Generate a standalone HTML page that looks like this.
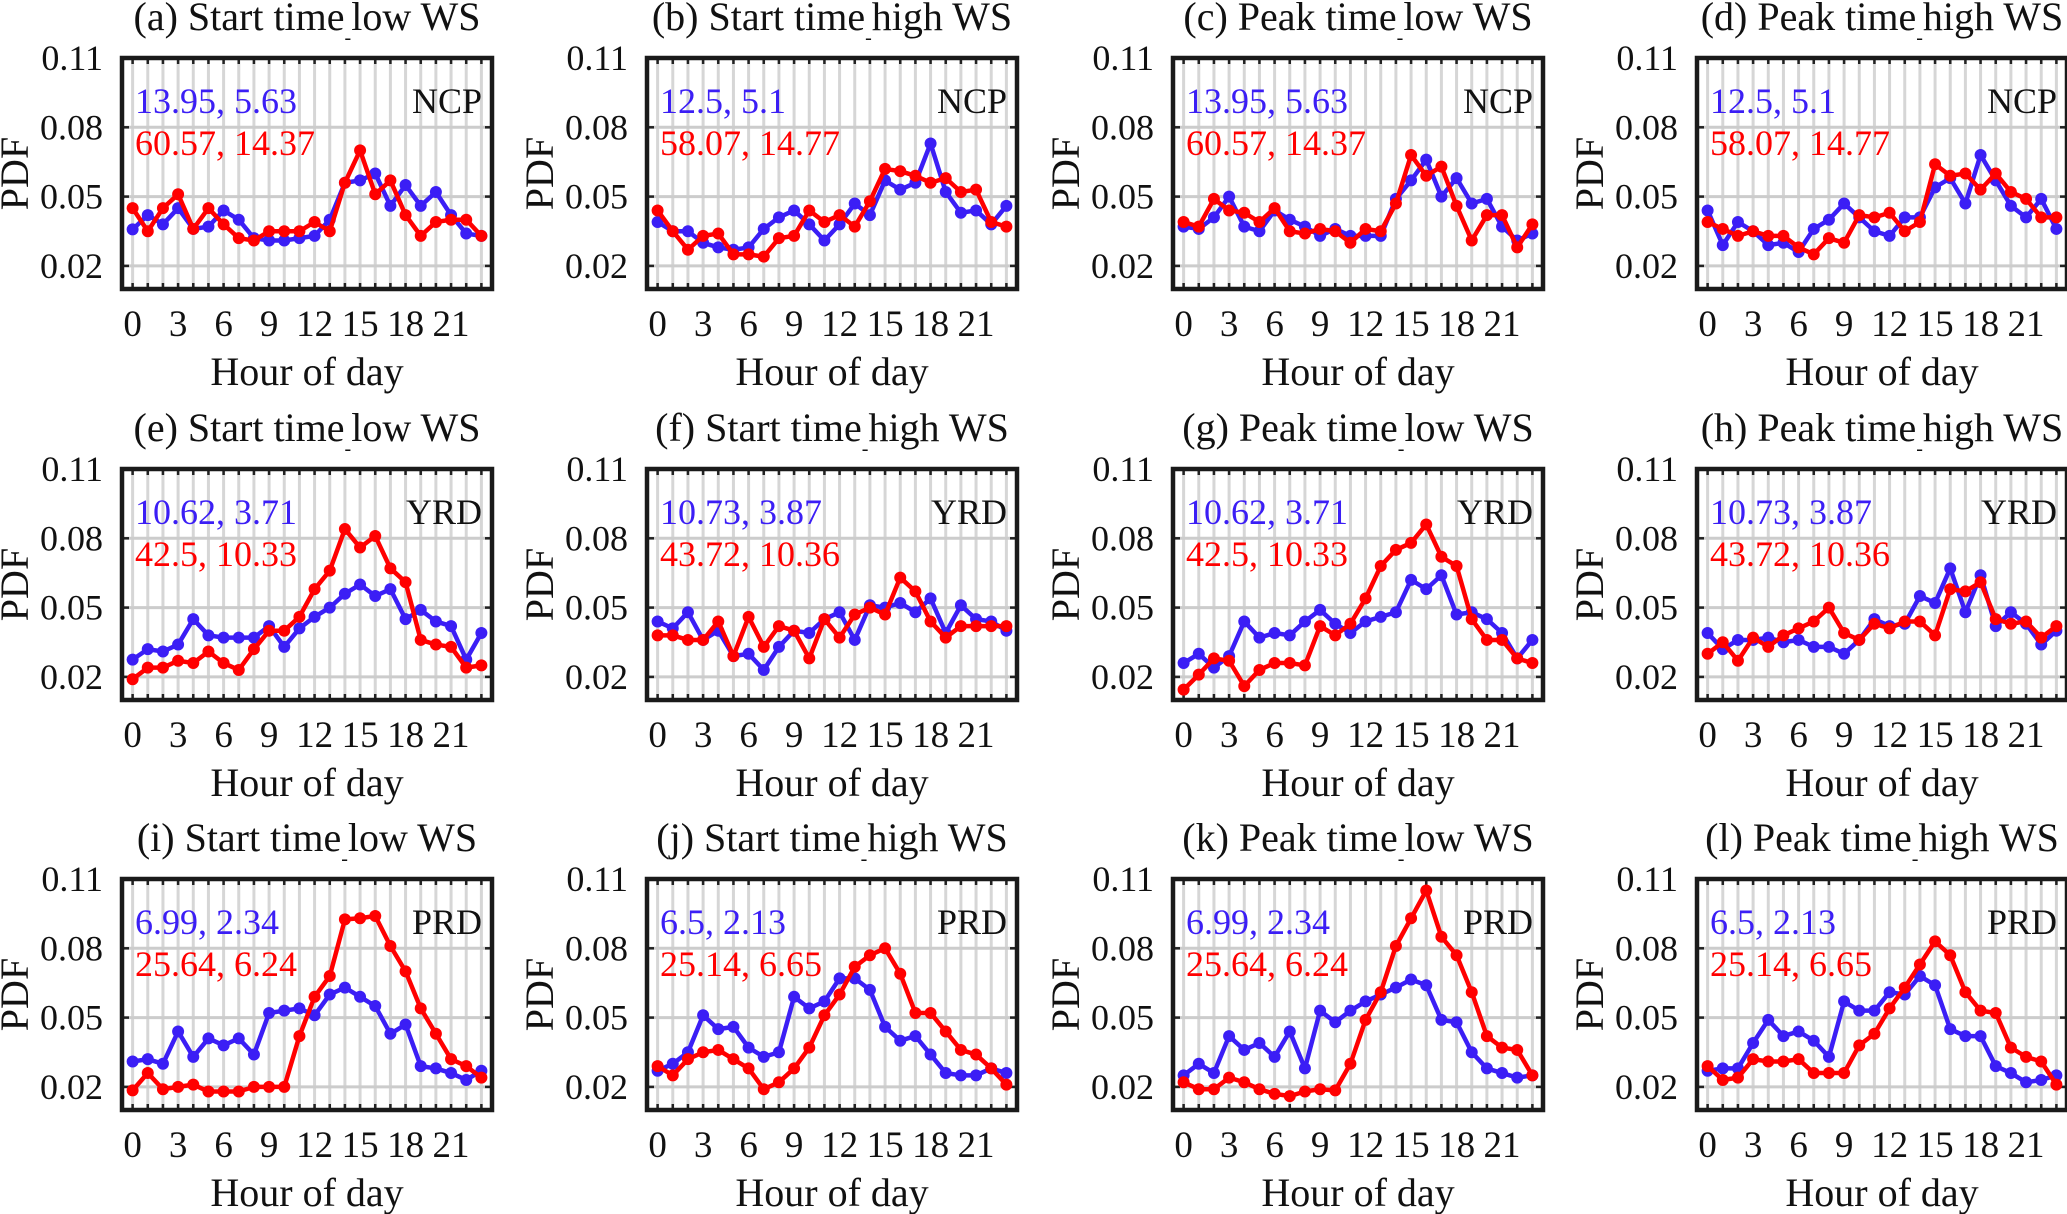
<!DOCTYPE html>
<html><head><meta charset="utf-8"><style>
html,body{margin:0;padding:0;background:#fff;}
svg{display:block;font-family:"Liberation Serif","Times New Roman",serif;}
</style></head><body>
<svg id="fig" width="2067" height="1214" viewBox="0 0 2067 1214" xmlns="http://www.w3.org/2000/svg"></svg>
<script>
const hours = [0,1,2,3,4,5,6,7,8,9,10,11,12,13,14,15,16,17,18,19,20,21,22,23];
const xTicks = [0,3,6,9,12,15,18,21];
const yTicks = [0.02,0.05,0.08,0.11];
const yTickLabels = ["0.02","0.05","0.08","0.11"];
const panelLetters = ["a","b","c","d","e","f","g","h","i","j","k","l"];
const panelKinds = ["Start time","Start time","Peak time","Peak time"];
const panelWS = ["low WS","high WS","low WS","high WS"];
const regions = ["NCP","YRD","PRD"];
const blueNotes = ["13.95, 5.63","12.5, 5.1","13.95, 5.63","12.5, 5.1","10.62, 3.71","10.73, 3.87","10.62, 3.71","10.73, 3.87","6.99, 2.34","6.5, 2.13","6.99, 2.34","6.5, 2.13"];
const redNotes = ["60.57, 14.37","58.07, 14.77","60.57, 14.37","58.07, 14.77","42.5, 10.33","43.72, 10.36","42.5, 10.33","43.72, 10.36","25.64, 6.24","25.14, 6.65","25.64, 6.24","25.14, 6.65"];
const blueA=[0.0358,0.042,0.038,0.045,0.036,0.037,0.044,0.040,0.032,0.031,0.031,0.032,0.033,0.040,0.056,0.057,0.060,0.046,0.055,0.046,0.052,0.042,0.034,0.033];
const redA=[0.045,0.035,0.045,0.051,0.036,0.045,0.038,0.032,0.031,0.035,0.035,0.035,0.039,0.035,0.056,0.070,0.051,0.057,0.042,0.033,0.039,0.040,0.040,0.033];
const blueB=[0.039,0.035,0.035,0.030,0.028,0.027,0.028,0.036,0.041,0.044,0.038,0.031,0.038,0.047,0.042,0.057,0.053,0.056,0.073,0.052,0.043,0.044,0.038,0.046];
const redB=[0.044,0.035,0.027,0.033,0.034,0.025,0.025,0.024,0.032,0.033,0.044,0.039,0.042,0.037,0.048,0.062,0.061,0.059,0.056,0.058,0.052,0.053,0.039,0.037];
const blueC=[0.037,0.036,0.041,0.050,0.037,0.035,0.044,0.040,0.037,0.033,0.036,0.033,0.033,0.033,0.049,0.057,0.066,0.050,0.058,0.047,0.049,0.037,0.031,0.034];
const redC=[0.039,0.037,0.049,0.044,0.043,0.039,0.045,0.035,0.034,0.036,0.035,0.030,0.036,0.035,0.047,0.068,0.059,0.063,0.046,0.031,0.042,0.042,0.028,0.038];
const blueD=[0.044,0.029,0.039,0.035,0.029,0.030,0.026,0.036,0.040,0.047,0.041,0.035,0.033,0.041,0.041,0.054,0.058,0.047,0.068,0.057,0.046,0.041,0.049,0.036];
const redD=[0.039,0.036,0.033,0.035,0.033,0.033,0.028,0.025,0.032,0.030,0.042,0.041,0.043,0.035,0.039,0.064,0.059,0.060,0.053,0.060,0.052,0.049,0.041,0.041];
const blueE=[0.0275,0.032,0.031,0.034,0.045,0.038,0.037,0.037,0.037,0.042,0.033,0.041,0.046,0.050,0.056,0.060,0.055,0.058,0.045,0.049,0.044,0.042,0.0275,0.039];
const redE=[0.019,0.024,0.024,0.027,0.026,0.031,0.026,0.023,0.032,0.040,0.040,0.046,0.058,0.066,0.084,0.076,0.081,0.067,0.061,0.036,0.034,0.033,0.024,0.025];
const blueF=[0.044,0.041,0.048,0.036,0.040,0.029,0.030,0.023,0.033,0.040,0.039,0.045,0.048,0.036,0.051,0.050,0.052,0.048,0.054,0.039,0.051,0.045,0.044,0.040];
const redF=[0.038,0.038,0.036,0.036,0.044,0.029,0.046,0.033,0.042,0.040,0.028,0.045,0.037,0.047,0.050,0.047,0.063,0.057,0.044,0.037,0.042,0.042,0.042,0.042];
const blueG=[0.026,0.030,0.024,0.029,0.044,0.037,0.039,0.038,0.044,0.049,0.043,0.039,0.044,0.046,0.048,0.062,0.058,0.064,0.047,0.048,0.045,0.039,0.028,0.036];
const redG=[0.0145,0.021,0.028,0.027,0.016,0.023,0.026,0.026,0.025,0.042,0.038,0.043,0.054,0.068,0.075,0.078,0.086,0.072,0.068,0.045,0.036,0.036,0.028,0.026];
const blueH=[0.039,0.032,0.036,0.036,0.037,0.035,0.036,0.033,0.033,0.030,0.036,0.045,0.042,0.043,0.055,0.052,0.067,0.048,0.064,0.042,0.048,0.043,0.034,0.040];
const redH=[0.030,0.035,0.027,0.037,0.033,0.038,0.041,0.044,0.050,0.039,0.036,0.043,0.041,0.044,0.044,0.038,0.058,0.057,0.061,0.045,0.043,0.044,0.037,0.042];
const blueI=[0.031,0.032,0.030,0.044,0.033,0.041,0.038,0.041,0.034,0.052,0.053,0.054,0.051,0.060,0.063,0.059,0.055,0.043,0.047,0.029,0.028,0.026,0.023,0.027];
const redI=[0.0185,0.026,0.019,0.020,0.021,0.018,0.018,0.018,0.020,0.020,0.020,0.042,0.059,0.068,0.0925,0.093,0.094,0.081,0.070,0.054,0.043,0.032,0.029,0.024];
const blueJ=[0.027,0.030,0.035,0.051,0.045,0.046,0.037,0.033,0.035,0.059,0.054,0.057,0.067,0.067,0.062,0.046,0.040,0.042,0.034,0.026,0.025,0.025,0.028,0.026];
const redJ=[0.029,0.025,0.032,0.035,0.036,0.032,0.028,0.019,0.022,0.028,0.037,0.051,0.060,0.072,0.077,0.080,0.069,0.052,0.052,0.044,0.036,0.034,0.028,0.021];
const blueK=[0.025,0.030,0.026,0.042,0.036,0.039,0.033,0.044,0.028,0.053,0.048,0.053,0.057,0.060,0.063,0.0665,0.064,0.049,0.048,0.035,0.028,0.026,0.024,0.025];
const redK=[0.022,0.019,0.019,0.024,0.022,0.019,0.017,0.016,0.018,0.019,0.0185,0.030,0.049,0.061,0.081,0.093,0.105,0.085,0.077,0.061,0.042,0.037,0.036,0.025];
const blueL=[0.027,0.028,0.028,0.039,0.049,0.042,0.044,0.040,0.033,0.057,0.053,0.053,0.061,0.060,0.068,0.064,0.045,0.042,0.042,0.029,0.026,0.022,0.023,0.025];
const redL=[0.029,0.023,0.024,0.032,0.031,0.031,0.032,0.026,0.026,0.026,0.038,0.043,0.054,0.063,0.073,0.083,0.077,0.061,0.053,0.052,0.037,0.033,0.031,0.021];
const blueSeries=[blueA,blueB,blueC,blueD,blueE,blueF,blueG,blueH,blueI,blueJ,blueK,blueL];
const redSeries=[redA,redB,redC,redD,redE,redF,redG,redH,redI,redJ,redK,redL];

const NS="http://www.w3.org/2000/svg";
const svg=document.getElementById('fig');
const LEFTS=[122,647,1173,1697], TOPS=[58,469,879], W=370, H=231;
const XMIN=-0.7, XMAX=23.7, YMIN=0.01, YMAX=0.11;
const BLUE="#3b1ef5", RED="#ff0000";
function mk(tag,attrs,parent){const e=document.createElementNS(NS,tag);for(const k in attrs)e.setAttribute(k,attrs[k]);(parent||svg).appendChild(e);return e;}

for(let p=0;p<12;p++){
  const r=Math.floor(p/4), c=p%4, L=LEFTS[c], T=TOPS[r];
  const xs=h=>L+(h-XMIN)/(XMAX-XMIN)*W;
  const ys=v=>T+(YMAX-v)/(YMAX-YMIN)*H;
  const g=mk('g',{});
  
  
  hours.forEach(h=>{const l=mk('line',{x1:xs(h),x2:xs(h),y1:T,y2:T+H,stroke:'#d6d6d6','stroke-width':3},g);
    });
  yTicks.slice(0,3).forEach(v=>{const l=mk('line',{x1:L,x2:L+W,y1:ys(v),y2:ys(v),stroke:'#cccccc','stroke-width':3},g);
    });
  hours.forEach(h=>{mk('line',{x1:xs(h),x2:xs(h),y1:T+H,y2:T+H-6,stroke:'#222','stroke-width':2.5},g);mk('line',{x1:xs(h),x2:xs(h),y1:T,y2:T+6,stroke:'#222','stroke-width':2.5},g);});
  yTicks.forEach(v=>{mk('line',{x1:L,x2:L+7,y1:ys(v),y2:ys(v),stroke:'#222','stroke-width':2.5},g);mk('line',{x1:L+W,x2:L+W-7,y1:ys(v),y2:ys(v),stroke:'#222','stroke-width':2.5},g);});
  [[blueSeries[p],BLUE,'blue'],[redSeries[p],RED,'red']].forEach(([d,col,nm])=>{
    const pl=mk('polyline',{points:d.map((v,i)=>xs(hours[i])+','+ys(v)).join(' '),fill:'none',stroke:col,'stroke-width':4.5,'stroke-linejoin':'round'},g);
    
    
    d.forEach((v,i)=>{const m=mk('circle',{cx:xs(hours[i]),cy:ys(v),r:6,fill:col},g);
      
      });
  });
  const b=mk('rect',{x:L,y:T,width:W,height:H,fill:'none',stroke:'#1a1a1a','stroke-width':4.5},g);
  
  yTicks.forEach((v,i)=>{const t=mk('text',{x:L-19,y:ys(v)+12,'text-anchor':'end','font-size':36,fill:'#111'},g);t.textContent=yTickLabels[i];
    });
  xTicks.forEach(h=>{const t=mk('text',{x:xs(h),y:T+H+47,'text-anchor':'middle','font-size':37,fill:'#111'},g);t.textContent=String(h);
    });
  const xl=mk('text',{x:L+W/2,y:T+H+96,'text-anchor':'middle','font-size':40,fill:'#111'},g);xl.textContent='Hour of day';
  
  const yl=mk('text',{x:0,y:0,'text-anchor':'middle','font-size':40,fill:'#111',transform:`translate(${L-94},${T+H/2}) rotate(-90)`},g);yl.textContent='PDF';
  
  const tt=mk('text',{x:L+W/2,y:T-28,'text-anchor':'middle','font-size':40,fill:'#111'},g);
  
  const s1=mk('tspan',{},tt);s1.textContent='('+panelLetters[p]+') '+panelKinds[c];
  const s2=mk('tspan',{dy:14,'font-size':20},tt);s2.textContent='-';
  const s3=mk('tspan',{dy:-14},tt);s3.textContent=panelWS[c];
  const bn=mk('text',{x:L+13,y:T+55,'font-size':36,fill:BLUE},g);bn.textContent=blueNotes[p];
  
  const rn=mk('text',{x:L+13,y:T+97,'font-size':36,fill:RED},g);rn.textContent=redNotes[p];
  
  const rg=mk('text',{x:L+W-10,y:T+55,'text-anchor':'end','font-size':36,fill:'#111'},g);rg.textContent=regions[r];
  
}
</script>
</body></html>
